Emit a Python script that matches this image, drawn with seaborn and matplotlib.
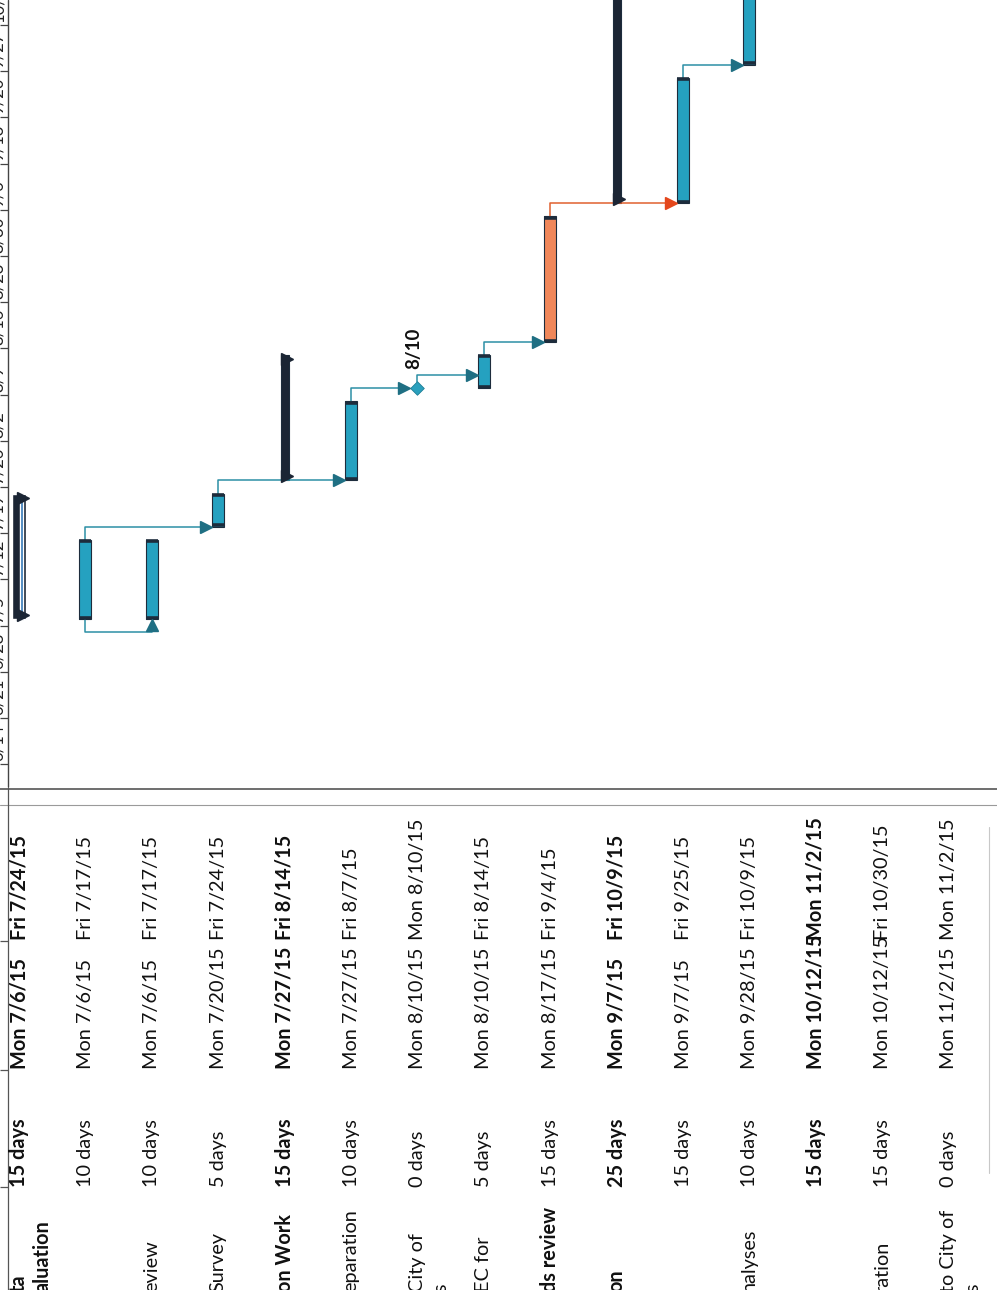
import numpy as np
import pandas as pd
import matplotlib
matplotlib.use("Agg")
import matplotlib.pyplot as plt
import seaborn as sns

sns.set_theme(style="white")
plt.rcParams["font.family"] = ["Lato", "DejaVu Sans"]

# ---------------------------------------------------------------- schedule
rows = list(range(15))
durations = ["15 days", "10 days", "10 days", "5 days", "15 days", "10 days", "0 days", "5 days",
             "15 days", "25 days", "15 days", "10 days", "15 days", "15 days", "0 days"]
start_labels = ["Mon 7/6/15", "Mon 7/6/15", "Mon 7/6/15", "Mon 7/20/15", "Mon 7/27/15",
                "Mon 7/27/15", "Mon 8/10/15", "Mon 8/10/15", "Mon 8/17/15", "Mon 9/7/15",
                "Mon 9/7/15", "Mon 9/28/15", "Mon 10/12/15", "Mon 10/12/15", "Mon 11/2/15"]
finish_labels = ["Fri 7/24/15", "Fri 7/17/15", "Fri 7/17/15", "Fri 7/24/15", "Fri 8/14/15",
                 "Fri 8/7/15", "Mon 8/10/15", "Fri 8/14/15", "Fri 9/4/15", "Fri 10/9/15",
                 "Fri 9/25/15", "Fri 10/9/15", "Mon 11/2/15", "Fri 10/30/15", "Mon 11/2/15"]
kinds = ["summary", "task", "task", "task", "summary", "task", "milestone", "task",
         "critical", "summary", "task", "task", "summary", "task", "milestone"]
name_lines = [["ta", "aluation"], [], ["eview"], ["Survey"], ["on Work"], ["eparation"],
              ["City of", "s"], ["EC for"], ["ds review"], ["on"], [], ["nalyses"], [],
              ["ration"], ["to City of", "s"]]
name_bold = [True, False, False, False, True, False, False, False, True, True, False, False,
             True, False, False]
week_labels = ["6/7", "6/14", "6/21", "6/28", "7/5", "7/12", "7/19", "7/26", "8/2", "8/9",
               "8/16", "8/23", "8/30", "9/6", "9/13", "9/20", "9/27", "10/4"]

# dependency links (predecessor row -> successor row)
link_pred = [1, 1, 3, 5, 6, 7, 8, 10]
link_succ = [2, 3, 5, 6, 7, 8, 10, 11]
link_type = ["SS", "FS", "FS", "FS", "FS", "FS", "FS", "FS"]

# ---------------------------------------------------------------- geometry
W, H = 997, 1290
SPLIT = 787          # boundary between timeline and table
ROW0_PX, ROW_PX = 19.0, 66.4
DAY_PX, ORIGIN_PX = 6.6, 619.0
origin = pd.Timestamp("2015-07-06")


def col(px):
    return (px - ROW0_PX) / ROW_PX


def dd(px):
    return px / DAY_PX


def parse(lbl):
    return pd.to_datetime(lbl.split()[1], format="%m/%d/%y")


d_start = np.array([(parse(s) - origin).days for s in start_labels], float)
d_end = np.array([(parse(f) - origin).days + (0 if k == "milestone" else 1)
                  for f, k in zip(finish_labels, kinds)], float)

sched = pd.DataFrame({"row": rows, "kind": kinds, "start": d_start, "end": d_end})
sched["length"] = sched["end"] - sched["start"]

fig = plt.figure(figsize=(W / 100, H / 100), dpi=100)
ax_g = fig.add_axes([0, 1 - SPLIT / H, 1, SPLIT / H])
ax_t = fig.add_axes([0, 0, 1, 1 - SPLIT / H])

XLIM = (col(0), col(W))
YLIM = (-dd(SPLIT - ORIGIN_PX), dd(ORIGIN_PX))
DARK = "#1b2534"
EDGE = "#1d2c3c"

# ---------------------------------------------------------------- bars
styles = {"task": ("#25a1c0", 12), "critical": ("#f0875a", 12), "summary": (DARK, 8)}
for kind, (colr, wpx) in styles.items():
    sub = sched[sched["kind"] == kind].sort_values("row")
    sns.barplot(data=sub, x="row", y="length", order=rows, color=colr, saturation=1,
                width=wpx / ROW_PX, bottom=sub["start"].to_numpy(), edgecolor=EDGE,
                linewidth=0.8, errorbar=None, ax=ax_g)

# first summary drawn heavier with its inner highlight stripe
top = sched.iloc[0]
ax_g.bar(top["row"], top["length"], bottom=top["start"], width=13 / ROW_PX, color=DARK, zorder=3)
ax_g.bar(top["row"] + 2.5 / ROW_PX, top["length"] - dd(8), bottom=top["start"] + dd(4),
         width=3 / ROW_PX, color="#2f74b5", zorder=4)

# dark end caps on working bars
hw = 6 / ROW_PX
for _, r in sched[sched["kind"].isin(["task", "critical"])].iterrows():
    ax_g.hlines([r["start"] + dd(1.3), r["end"] - dd(1.3)], r["row"] - hw, r["row"] + hw,
                colors=EDGE, lw=2.6, zorder=3)

# summary end points
for _, r in sched[sched["kind"] == "summary"].iterrows():
    off = 2.5 / ROW_PX if r["row"] else 4 / ROW_PX
    ax_g.plot([r["row"] + off] * 2, [r["start"] + dd(4), r["end"] - dd(4)], ls="none",
              marker=">", ms=8, color=DARK, zorder=5)

# milestones
ms = sched[sched["kind"] == "milestone"]
sns.scatterplot(data=ms, x="row", y="start", marker="D", s=48, color="#2aa0bd",
                edgecolor="#1e7f96", linewidth=0.6, zorder=6, ax=ax_g, legend=False)
for _, r in ms.iterrows():
    if r["start"] + dd(19) > YLIM[1]:
        continue
    d = parse(start_labels[int(r["row"])])
    ax_g.text(r["row"] - 4 / ROW_PX, r["start"] + dd(19), f"{d.month}/{d.day}", rotation=90,
              rotation_mode="anchor", ha="left", va="center", fontsize=13.5, fontweight="bold",
              color="#111111", clip_on=True)

# ---------------------------------------------------------------- links
for p, s, t in zip(link_pred, link_succ, link_type):
    crit = kinds[p] == "critical"
    lc = "#e0612f" if crit else "#2c8fa5"
    hc = "#e4471c" if crit else "#1f6f83"
    if t == "SS":
        y0 = d_start[p]
        yc = min(d_start[p], d_start[s]) - dd(13)
        head_y = d_start[s] - dd(6)
        ax_g.plot([p, p, s, s], [y0, yc, yc, head_y], color=lc, lw=1.1,
                  solid_joinstyle="round", zorder=2)
        ax_g.plot([s], [head_y], marker="^", ms=9, color=hc, ls="none", zorder=6)
    else:
        y0 = d_end[p]
        line0 = y0 + (dd(6) if kinds[p] == "milestone" else 0)
        yc = max(d_start[s], y0 + 2)
        tip = s - (7 if kinds[s] == "milestone" else 6) / ROW_PX
        head_x = tip - 6 / ROW_PX
        ax_g.plot([p, p, head_x], [line0, yc, yc], color=lc, lw=1.1,
                  solid_joinstyle="round", zorder=2)
        ax_g.plot([head_x], [yc], marker=">", ms=9, color=hc, ls="none", zorder=6)

# ---------------------------------------------------------------- timescale strip
ax_g.plot([col(8.5)] * 2, list(YLIM), color="#444444", lw=1.0)
for lbl in week_labels:
    wd = (pd.to_datetime(lbl + "/2015", format="%m/%d/%Y") - origin).days
    ax_g.hlines(wd, col(0), col(8.5), colors="#444444", lw=0.9)
    ax_g.text(col(-2), wd + dd(3), lbl, rotation=90, rotation_mode="anchor", ha="left",
              va="center", fontsize=12, color="#222222", clip_on=True)

ax_g.set_xlim(*XLIM)
ax_g.set_ylim(*YLIM)
ax_g.axis("off")

# ---------------------------------------------------------------- table
FS = 14.3
Y_DUR, Y_START, Y_FIN, Y_NAME = 1187, 1069, 940, 1292
for i in rows:
    w = "bold" if kinds[i] == "summary" else "normal"
    for y, txt in ((Y_DUR, durations[i]), (Y_START, start_labels[i]), (Y_FIN, finish_labels[i])):
        ax_t.text(i, y, txt, rotation=90, rotation_mode="anchor", ha="left", va="center",
                  fontsize=FS, fontweight=w, color="#111111")
    for j, line in enumerate(name_lines[i]):
        ax_t.text(i + (0.0 if j == 0 else 0.36), Y_NAME, line, rotation=90,
                  rotation_mode="anchor", ha="left", va="center", fontsize=FS,
                  fontweight="bold" if name_bold[i] else "normal", color="#111111")

ax_t.axhline(SPLIT + 1.5, color="#555555", lw=1.2)
ax_t.axhline(805, color="#9a9a9a", lw=0.8)
ax_t.plot([col(8.5)] * 2, [SPLIT, H], color="#555555", lw=0.9)
ax_t.hlines([941, 1070, 1187], col(0), col(8.5), colors="#555555", lw=0.9)
ax_t.plot([col(989)] * 2, [827, 1173], color="#c8c8c8", lw=0.8)
ax_t.set_xlim(*XLIM)
ax_t.set_ylim(H, SPLIT)
ax_t.axis("off")

fig.savefig("out.png", dpi=100)
